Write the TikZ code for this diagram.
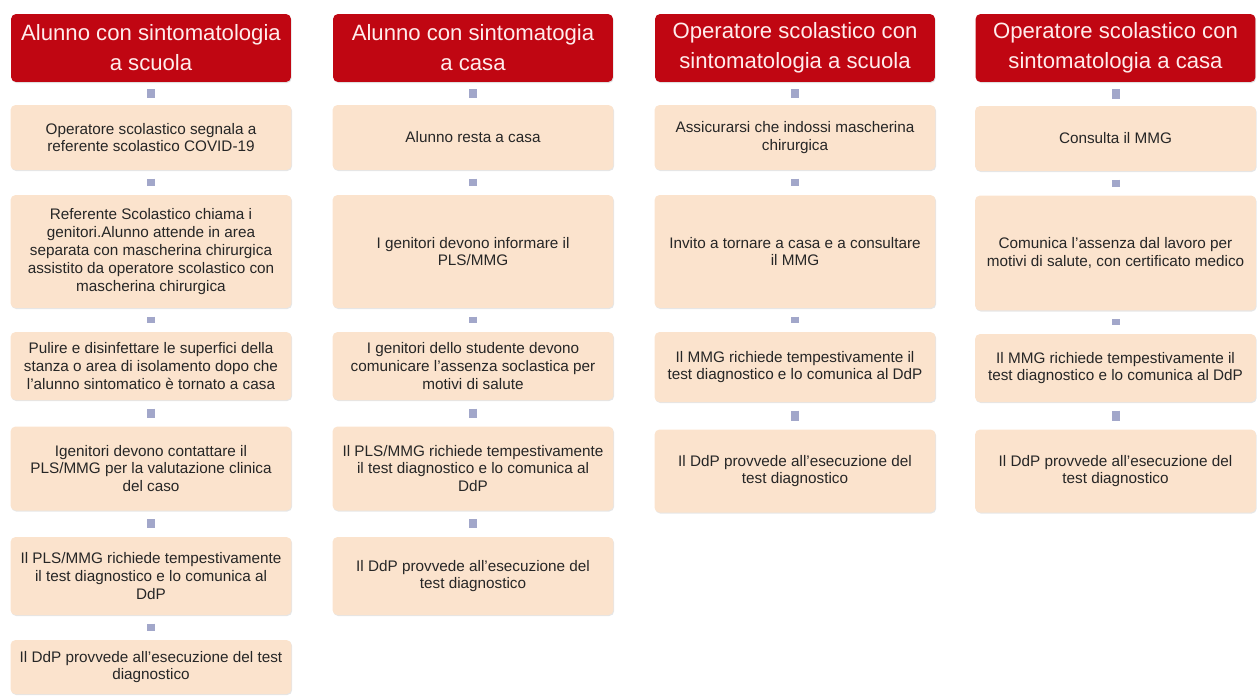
\documentclass[tikz,border=0pt]{standalone}
\usepackage{fontspec}
\setmainfont{Liberation Sans}
\usepackage{tikz}
\usetikzlibrary{positioning,shadows}
\definecolor{headred}{RGB}{192,6,18}
\definecolor{headtxt}{RGB}{255,236,236}
\definecolor{peach}{RGB}{251,227,205}
\definecolor{bodytxt}{RGB}{38,38,38}
\definecolor{linkblue}{RGB}{162,167,202}
\tikzset{
  head/.style={rectangle,rounded corners=0.1cm,fill=headred,text=headtxt,
    minimum width=5.6cm,minimum height=1.36cm,align=center,inner sep=0pt,
    font=\fontsize{12.6}{17}\selectfont,
    drop shadow={shadow xshift=0.4pt,shadow yshift=-0.6pt,opacity=0.25}},
  box/.style={rectangle,rounded corners=0.1cm,fill=peach,text=bodytxt,
    minimum width=5.62cm,align=center,inner sep=0pt,
    font=\fontsize{8.7}{10.2}\selectfont,
    drop shadow={shadow xshift=0.4pt,shadow yshift=-0.6pt,opacity=0.2}},
  link/.style={draw=linkblue,line width=0.16cm,shorten <=0.165cm,shorten >=0.165cm},
  toplink/.style={link,shorten <=0.14cm,shorten >=0.14cm}
}
\begin{document}
\begin{tikzpicture}[x=0.02cm,y=-0.02cm]
\useasboundingbox (0,0) rectangle (1257,697);
% alunno a scuola
\node (ha) at (151,48) [head] {Alunno con sintomatologia\\a scuola};
\node (a1) at (151,137.5) [box,minimum height=1.3cm] {Operatore scolastico segnala a\\referente scolastico COVID-19};
\node (a2) at (151,251.5) [box,minimum height=2.26cm] {Referente Scolastico chiama i\\genitori.Alunno attende in area\\separata con mascherina chirurgica\\assistito da operatore scolastico con\\mascherina chirurgica};
\node (a3) at (151,366) [box,minimum height=1.36cm] {Pulire e disinfettare le superfici della\\stanza o area di isolamento dopo che\\l'alunno sintomatico è tornato a casa};
\node (a4) at (151,468.5) [box,minimum height=1.68cm] {Igenitori devono contattare il\\PLS/MMG per la valutazione clinica\\del caso};
\node (a5) at (151,576) [box,minimum height=1.56cm] {Il PLS/MMG richiede tempestivamente\\il test diagnostico e lo comunica al\\DdP};
\node (a6) at (151,667) [box,minimum height=1.08cm] {Il DdP provvede all'esecuzione del test\\diagnostico};
\draw[toplink] (ha) -- (a1);
\draw[link] (a1) -- (a2);
\draw[link] (a2) -- (a3);
\draw[link] (a3) -- (a4);
\draw[link] (a4) -- (a5);
\draw[link] (a5) -- (a6);
% alunno a casa
\node (hb) at (473,48) [head] {Alunno con sintomatogia\\a casa};
\node (b1) at (473,137.5) [box,minimum height=1.3cm] {Alunno resta a casa};
\node (b2) at (473,251.5) [box,minimum height=2.26cm] {I genitori devono informare il\\PLS/MMG};
\node (b3) at (473,366) [box,minimum height=1.36cm] {I genitori dello studente devono\\comunicare l'assenza soclastica per\\motivi di salute};
\node (b4) at (473,468.5) [box,minimum height=1.68cm] {Il PLS/MMG richiede tempestivamente\\il test diagnostico e lo comunica al\\DdP};
\node (b5) at (473,576) [box,minimum height=1.56cm] {Il DdP provvede all'esecuzione del\\test diagnostico};
\draw[toplink] (hb) -- (b1);
\draw[link] (b1) -- (b2);
\draw[link] (b2) -- (b3);
\draw[link] (b3) -- (b4);
\draw[link] (b4) -- (b5);
% operatore a scuola
\node (hc) at (795,48) [head] {Operatore scolastico con\\sintomatologia a scuola};
\node (c1) at (795,137.5) [box,minimum height=1.3cm] {Assicurarsi che indossi mascherina\\chirurgica};
\node (c2) at (795,251.5) [box,minimum height=2.26cm] {Invito a tornare a casa e a consultare\\il MMG};
\node (c3) at (795,367) [box,minimum height=1.4cm] {Il MMG richiede tempestivamente il\\test diagnostico e lo comunica al DdP};
\node (c4) at (795,471) [box,minimum height=1.66cm] {Il DdP provvede all'esecuzione del\\test diagnostico};
\draw[toplink] (hc) -- (c1);
\draw[link] (c1) -- (c2);
\draw[link] (c2) -- (c3);
\draw[link] (c3) -- (c4);
% operatore a casa
\node (hd) at (1115.5,48) [head] {Operatore scolastico con\\sintomatologia a casa};
\node (d1) at (1115.5,138.5) [box,minimum height=1.3cm] {Consulta il MMG};
\node (d2) at (1115.5,253) [box,minimum height=2.3cm] {Comunica l'assenza dal lavoro per\\motivi di salute, con certificato medico};
\node (d3) at (1115.5,368) [box,minimum height=1.36cm] {Il MMG richiede tempestivamente il\\test diagnostico e lo comunica al DdP};
\node (d4) at (1115.5,471) [box,minimum height=1.66cm] {Il DdP provvede all'esecuzione del\\test diagnostico};
\draw[toplink] (hd) -- (d1);
\draw[link] (d1) -- (d2);
\draw[link] (d2) -- (d3);
\draw[link] (d3) -- (d4);
\end{tikzpicture}
\end{document}
